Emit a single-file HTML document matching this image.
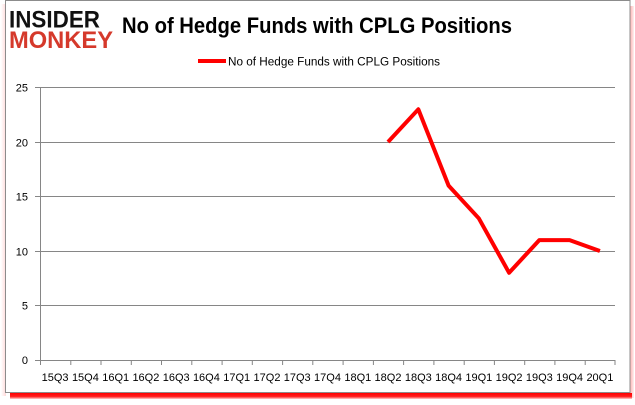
<!DOCTYPE html>
<html>
<head>
<meta charset="utf-8">
<style>
  html,body{margin:0;padding:0;background:#fff;}
  svg{display:block;}
  text{font-family:"Liberation Sans",Arial,sans-serif;}
</style>
</head>
<body>
<svg width="635" height="405" viewBox="0 0 635 405" xmlns="http://www.w3.org/2000/svg">
  <defs>
    <linearGradient id="bsh" x1="0" y1="0" x2="0" y2="1">
      <stop offset="0" stop-color="#ff0000"/>
      <stop offset="0.6" stop-color="#ff2020"/>
      <stop offset="1" stop-color="#ffd0d0"/>
    </linearGradient>
    <linearGradient id="rsh" x1="0" y1="0" x2="1" y2="0">
      <stop offset="0" stop-color="#ffb0b0"/>
      <stop offset="1" stop-color="#fff0f0"/>
    </linearGradient>
    <linearGradient id="lsh" x1="1" y1="0" x2="0" y2="0">
      <stop offset="0" stop-color="#ffd8d8"/>
      <stop offset="1" stop-color="#ffffff"/>
    </linearGradient>
  </defs>
  <rect width="635" height="405" fill="#fff"/>
  <!-- shadows -->
  <rect x="1" y="4" width="5" height="392" fill="url(#lsh)"/>
  <rect x="630" y="6" width="4" height="392" fill="url(#rsh)"/>
  <rect x="10" y="393" width="622" height="6" fill="url(#bsh)"/>
  <!-- frame -->
  <rect x="5.5" y="0.5" width="624.5" height="392" fill="#fff" stroke="#8c8c8c" stroke-width="1"/>

  <!-- logo -->
  <text x="9" y="27.5" font-size="24" font-weight="bold" fill="#111" textLength="91" lengthAdjust="spacingAndGlyphs">INSIDER</text>
  <text x="9" y="48" font-size="24" font-weight="bold" fill="#d5392b" textLength="104" lengthAdjust="spacingAndGlyphs">MONKEY</text>

  <!-- title -->
  <text x="122" y="33" font-size="22" font-weight="bold" fill="#000" textLength="390" lengthAdjust="spacingAndGlyphs">No of Hedge Funds with CPLG Positions</text>

  <!-- legend -->
  <line x1="198" y1="61" x2="226" y2="61" stroke="#ff0000" stroke-width="4"/>
  <text x="228" y="65.5" font-size="11.5" fill="#000" textLength="212" lengthAdjust="spacingAndGlyphs">No of Hedge Funds with CPLG Positions</text>

  <!-- gridlines -->
  <g stroke="#868686" stroke-width="1">
    <line x1="35" y1="87.5" x2="615" y2="87.5"/>
    <line x1="35" y1="142.5" x2="615" y2="142.5"/>
    <line x1="35" y1="196.5" x2="615" y2="196.5"/>
    <line x1="35" y1="251.5" x2="615" y2="251.5"/>
    <line x1="35" y1="305.5" x2="615" y2="305.5"/>
    <line x1="35" y1="360.5" x2="615" y2="360.5"/>
    <line x1="40.5" y1="87.5" x2="40.5" y2="360.5"/>
  </g>
  <!-- x ticks -->
  <g stroke="#868686" stroke-width="1">
    <line x1="40.5" y1="360" x2="40.5" y2="365"/>
    <line x1="70.8" y1="360" x2="70.8" y2="365"/>
    <line x1="101.0" y1="360" x2="101.0" y2="365"/>
    <line x1="131.3" y1="360" x2="131.3" y2="365"/>
    <line x1="161.5" y1="360" x2="161.5" y2="365"/>
    <line x1="191.8" y1="360" x2="191.8" y2="365"/>
    <line x1="222.1" y1="360" x2="222.1" y2="365"/>
    <line x1="252.3" y1="360" x2="252.3" y2="365"/>
    <line x1="282.6" y1="360" x2="282.6" y2="365"/>
    <line x1="312.8" y1="360" x2="312.8" y2="365"/>
    <line x1="343.1" y1="360" x2="343.1" y2="365"/>
    <line x1="373.4" y1="360" x2="373.4" y2="365"/>
    <line x1="403.6" y1="360" x2="403.6" y2="365"/>
    <line x1="433.9" y1="360" x2="433.9" y2="365"/>
    <line x1="464.2" y1="360" x2="464.2" y2="365"/>
    <line x1="494.4" y1="360" x2="494.4" y2="365"/>
    <line x1="524.7" y1="360" x2="524.7" y2="365"/>
    <line x1="554.9" y1="360" x2="554.9" y2="365"/>
    <line x1="585.2" y1="360" x2="585.2" y2="365"/>
    <line x1="615.0" y1="360" x2="615.0" y2="365"/>
  </g>

  <!-- y labels -->
  <g font-size="11" fill="#000" text-anchor="end">
    <text x="28" y="91.5">25</text>
    <text x="28" y="146.5">20</text>
    <text x="28" y="200.5">15</text>
    <text x="28" y="255.5">10</text>
    <text x="28" y="309.5">5</text>
    <text x="28" y="364">0</text>
  </g>

  <!-- x labels -->
  <g font-size="11" fill="#000" text-anchor="middle">
    <text x="55.1" y="381">15Q3</text>
    <text x="85.4" y="381">15Q4</text>
    <text x="115.7" y="381">16Q1</text>
    <text x="145.9" y="381">16Q2</text>
    <text x="176.2" y="381">16Q3</text>
    <text x="206.4" y="381">16Q4</text>
    <text x="236.7" y="381">17Q1</text>
    <text x="267.0" y="381">17Q2</text>
    <text x="297.2" y="381">17Q3</text>
    <text x="327.5" y="381">17Q4</text>
    <text x="357.8" y="381">18Q1</text>
    <text x="388.0" y="381">18Q2</text>
    <text x="418.3" y="381">18Q3</text>
    <text x="448.6" y="381">18Q4</text>
    <text x="478.8" y="381">19Q1</text>
    <text x="509.1" y="381">19Q2</text>
    <text x="539.3" y="381">19Q3</text>
    <text x="569.6" y="381">19Q4</text>
    <text x="599.9" y="381">20Q1</text>
  </g>

  <!-- series -->
  <polyline fill="none" stroke="#ff0000" stroke-width="4" stroke-linejoin="round"
    points="388.0,142 418.3,109.3 448.6,185.6 478.8,218.3 509.1,272.8 539.3,240.1 569.6,240.1 599.9,251"/>
</svg>
</body>
</html>
